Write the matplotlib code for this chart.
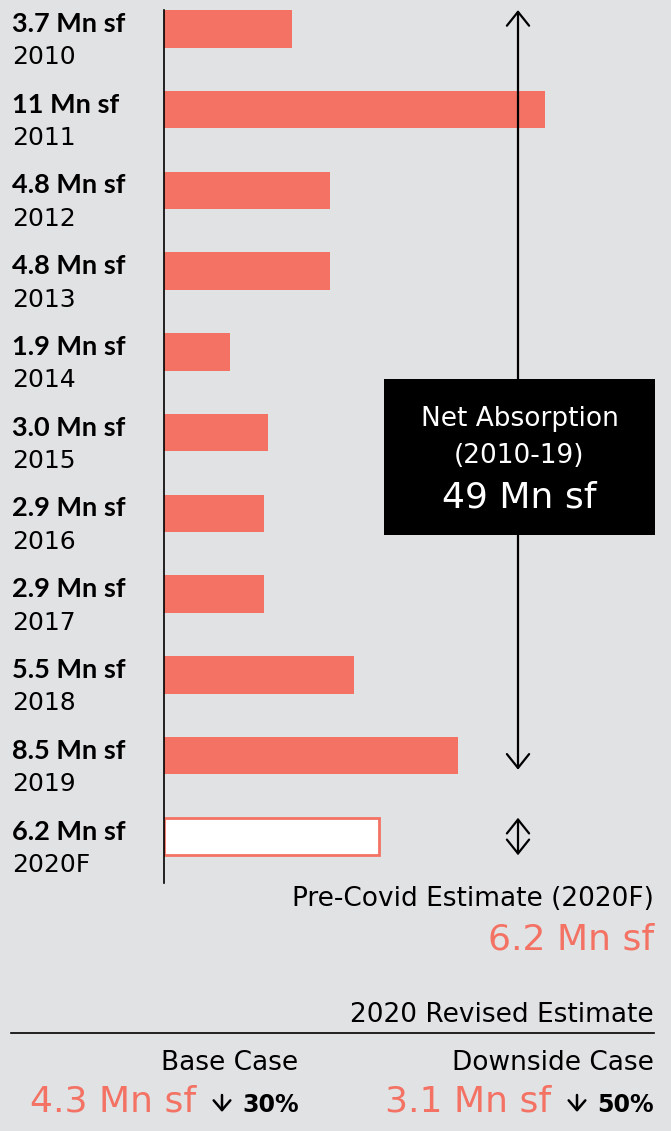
import matplotlib
matplotlib.use("Agg")
import matplotlib.pyplot as plt
from matplotlib.patches import Rectangle
from matplotlib.transforms import blended_transform_factory

# data
years = ["2010", "2011", "2012", "2013", "2014", "2015", "2016", "2017", "2018", "2019", "2020F"]
values = [3.7, 11, 4.8, 4.8, 1.9, 3.0, 2.9, 2.9, 5.5, 8.5, 6.2]
value_labels = ["3.7 Mn sf", "11 Mn sf", "4.8 Mn sf", "4.8 Mn sf", "1.9 Mn sf", "3.0 Mn sf",
                "2.9 Mn sf", "2.9 Mn sf", "5.5 Mn sf", "8.5 Mn sf", "6.2 Mn sf"]
total_label = "49 Mn sf"
precovid_label = "6.2 Mn sf"
base_label, base_drop = "4.3 Mn sf", "30%"
down_label, down_drop = "3.1 Mn sf", "50%"

BG = "#E1E2E4"
SALMON = "#F37264"
plt.rcParams["font.family"] = ["DejaVu Sans"]

W, H = 671, 1131
fig = plt.figure(figsize=(W / 100, H / 100), dpi=100, facecolor=BG)

# bar axes: left edge at 164 px, spans figure top to 883 px
ax = fig.add_axes([164 / W, 1 - 883 / H, (W - 164) / W, 883 / H])
ax.set_facecolor("none")
px_unit = 34.6
ax.set_xlim(0, (W - 164) / px_unit)
step = 80.8
ax.set_ylim(10 + (883 - 836.5) / step, -28.8 / step)

bh = 37.5 / step
pos = list(range(len(years)))
ax.barh(pos[:-1], values[:-1], height=bh, color=SALMON, zorder=2)
ax.barh(pos[-1:], values[-1:], height=bh, facecolor="white", edgecolor=SALMON, linewidth=2, zorder=2)

for s in ["top", "right", "bottom"]:
    ax.spines[s].set_visible(False)
ax.spines["left"].set_bounds(-bh / 2, ax.get_ylim()[0])
ax.spines["left"].set_linewidth(1.2)
ax.set_xticks([])
ax.set_yticks([])

# overlay axes in pixel coords
ov = fig.add_axes([0, 0, 1, 1])
ov.set_xlim(0, W)
ov.set_ylim(H, 0)
ov.axis("off")

REG = 19
BIG = 26
tr = blended_transform_factory(ov.transData, ax.transData)
for i, (yr, lab) in enumerate(zip(years, value_labels)):
    ax.text(12, i + 3 / step, lab, transform=tr, fontsize=19.5, fontweight="bold",
            family=["Lato", "DejaVu Sans"], va="baseline", ha="left", color="black")
    ax.text(12, i + 35.5 / step, yr, transform=tr, fontsize=18,
            va="baseline", ha="left", color="black")

# arrows
xa = (518 - 164) / px_unit
arrow = dict(arrowstyle="<->,head_length=1.0,head_width=0.8",
             lw=1.6, color="black", mutation_scale=10, shrinkA=0, shrinkB=0)
ax.annotate("", xy=(xa, 9 + 14 / step), xytext=(xa, -bh / 2), arrowprops=arrow)
ax.annotate("", xy=(xa, 10 + bh / 2), xytext=(xa, 10 - bh / 2), arrowprops=arrow)

# black box
ov.add_patch(Rectangle((384, 379), 271, 156, facecolor="black", edgecolor="none"))
ov.text(519.5, 426, "Net Absorption", color="white", fontsize=REG, ha="center", va="baseline")
ov.text(519.5, 463, "(2010-19)", color="white", fontsize=REG, ha="center", va="baseline")
ov.text(519.5, 507, total_label, color="white", fontsize=26, ha="center", va="baseline")

# bottom summary
ov.text(654, 906, "Pre-Covid Estimate (2020F)", fontsize=REG, ha="right", va="baseline")
ov.text(654, 950, precovid_label, fontsize=BIG, color=SALMON, ha="right", va="baseline")
ov.text(654, 1022.5, "2020 Revised Estimate", fontsize=REG, ha="right", va="baseline")
ov.plot([11, 654], [1033, 1033], color="black", lw=1.2)
ov.text(298, 1069.5, "Base Case", fontsize=REG, ha="right", va="baseline")
ov.text(654, 1069.5, "Downside Case", fontsize=REG, ha="right", va="baseline")

down = dict(arrowstyle="->,head_length=0.7,head_width=0.6", lw=1.8, color="black",
            mutation_scale=10, shrinkA=0, shrinkB=0)
ov.text(196, 1112, base_label, fontsize=BIG, color=SALMON, ha="right", va="baseline")
ov.annotate("", xy=(222, 1112), xytext=(222, 1095), arrowprops=down)
ov.text(299, 1112, base_drop, fontsize=17, fontweight="bold", ha="right", va="baseline")
ov.text(551, 1112, down_label, fontsize=BIG, color=SALMON, ha="right", va="baseline")
ov.annotate("", xy=(577, 1112), xytext=(577, 1095), arrowprops=down)
ov.text(654, 1112, down_drop, fontsize=17, fontweight="bold", ha="right", va="baseline")

fig.savefig("out.png", dpi=100, facecolor=BG)
